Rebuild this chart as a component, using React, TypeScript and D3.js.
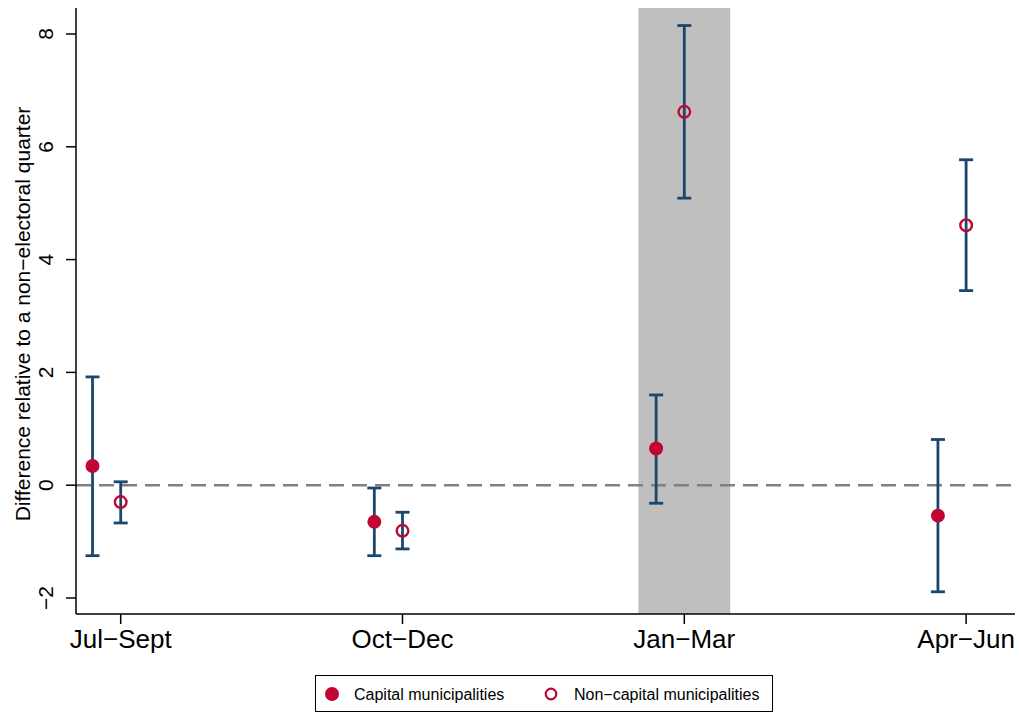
import React from 'react';
import * as d3 from 'd3';

// quarters shown on the x axis
const quarters = ['Jul\u2212Sept', 'Oct\u2212Dec', 'Jan\u2212Mar', 'Apr\u2212Jun'];

// capital municipalities: estimate and 95% CI
const capitalEst = [0.34, -0.65, 0.65, -0.54];
const capitalLow = [-1.25, -1.25, -0.32, -1.89];
const capitalHigh = [1.92, -0.05, 1.6, 0.81];

// non-capital municipalities
const nonCapitalEst = [-0.3, -0.81, 6.62, 4.61];
const nonCapitalLow = [-0.67, -1.13, 5.09, 3.45];
const nonCapitalHigh = [0.06, -0.48, 8.15, 5.77];

const yTicks = [-2, 0, 2, 4, 6, 8];
// electoral quarter shading (x positions in quarter units)
const shadeRange = [2.837, 3.163];

const width = 1019;
const height = 713;
const font = '"Liberation Sans", Arial, Helvetica, sans-serif';
const navy = '#1a476f';
const red = '#c10534';

const App = () => {
  const left = 76;
  const right = 1015;
  const top = 8;
  const bottom = 614;

  const x = d3.scaleLinear().domain([0.8414, 4.1735]).range([left, right]);
  const y = d3.scaleLinear().domain([-2.284, 8.461]).range([bottom, top]);

  const capOffset = -0.1;
  const capHalf = 7;

  const bars = (est: number[], lo: number[], hi: number[], off: number, key: string) =>
    est.map((_, i) => {
      const cx = x(i + 1 + off);
      return (
        <g key={key + i} stroke={navy} strokeWidth={2.8}>
          <line x1={cx} x2={cx} y1={y(lo[i])} y2={y(hi[i])} />
          <line x1={cx - capHalf} x2={cx + capHalf} y1={y(lo[i])} y2={y(lo[i])} />
          <line x1={cx - capHalf} x2={cx + capHalf} y1={y(hi[i])} y2={y(hi[i])} />
        </g>
      );
    });

  return (
    <svg
      width={width}
      height={height}
      style={{ position: 'absolute', left: 0, top: 0, background: '#fff' }}
      fontFamily={font}
    >
      <rect
        x={x(shadeRange[0])}
        width={x(shadeRange[1]) - x(shadeRange[0])}
        y={top}
        height={bottom - top}
        fill="#bfbfbf"
      />
      <line
        x1={left}
        x2={right}
        y1={y(0)}
        y2={y(0)}
        stroke="#808080"
        strokeWidth={2.5}
        strokeDasharray="15 8"
      />

      {bars(capitalEst, capitalLow, capitalHigh, capOffset, 'c')}
      {bars(nonCapitalEst, nonCapitalLow, nonCapitalHigh, 0, 'n')}

      {capitalEst.map((v, i) => (
        <circle key={'cp' + i} cx={x(i + 1 + capOffset)} cy={y(v)} r={7} fill={red} />
      ))}
      {nonCapitalEst.map((v, i) => (
        <circle
          key={'np' + i}
          cx={x(i + 1)}
          cy={y(v)}
          r={5.8}
          fill="none"
          stroke={red}
          strokeWidth={2.4}
        />
      ))}

      {/* y axis */}
      <line x1={left} x2={left} y1={top} y2={bottom} stroke="#000" strokeWidth={1.5} />
      {yTicks.map((t) => (
        <g key={'yt' + t}>
          <line x1={left - 10} x2={left} y1={y(t)} y2={y(t)} stroke="#000" strokeWidth={1.5} />
          <text
            transform={`translate(53,${y(t)}) rotate(-90)`}
            textAnchor="middle"
            fontSize={21}
            fill="#000"
          >
            {t < 0 ? '\u2212' + Math.abs(t) : t}
          </text>
        </g>
      ))}
      <text
        transform={`translate(30,${(top + bottom) / 2 + 3}) rotate(-90)`}
        textAnchor="middle"
        fontSize={21}
        fill="#000"
      >
        Difference relative to a non{'\u2212'}electoral quarter
      </text>

      {/* x axis */}
      <line x1={left} x2={right} y1={bottom} y2={bottom} stroke="#000" strokeWidth={1.5} />
      {quarters.map((q, i) => (
        <g key={'xt' + i}>
          <line x1={x(i + 1)} x2={x(i + 1)} y1={bottom} y2={bottom + 10} stroke="#000" strokeWidth={1.5} />
          <text x={x(i + 1)} y={648} textAnchor="middle" fontSize={26} fill="#000">
            {q}
          </text>
        </g>
      ))}

      {/* legend */}
      <rect x={315.5} y={675.5} width={457} height={36} fill="#fff" stroke="#000" strokeWidth={1} />
      <circle cx={332} cy={694} r={7} fill={red} />
      <text x={354} y={699.5} fontSize={16} fill="#000">
        Capital municipalities
      </text>
      <circle cx={551} cy={694} r={5.3} fill="none" stroke={red} strokeWidth={2.2} />
      <text x={574} y={699.5} fontSize={16} fill="#000">
        Non{'\u2212'}capital municipalities
      </text>
    </svg>
  );
};

export default App;
